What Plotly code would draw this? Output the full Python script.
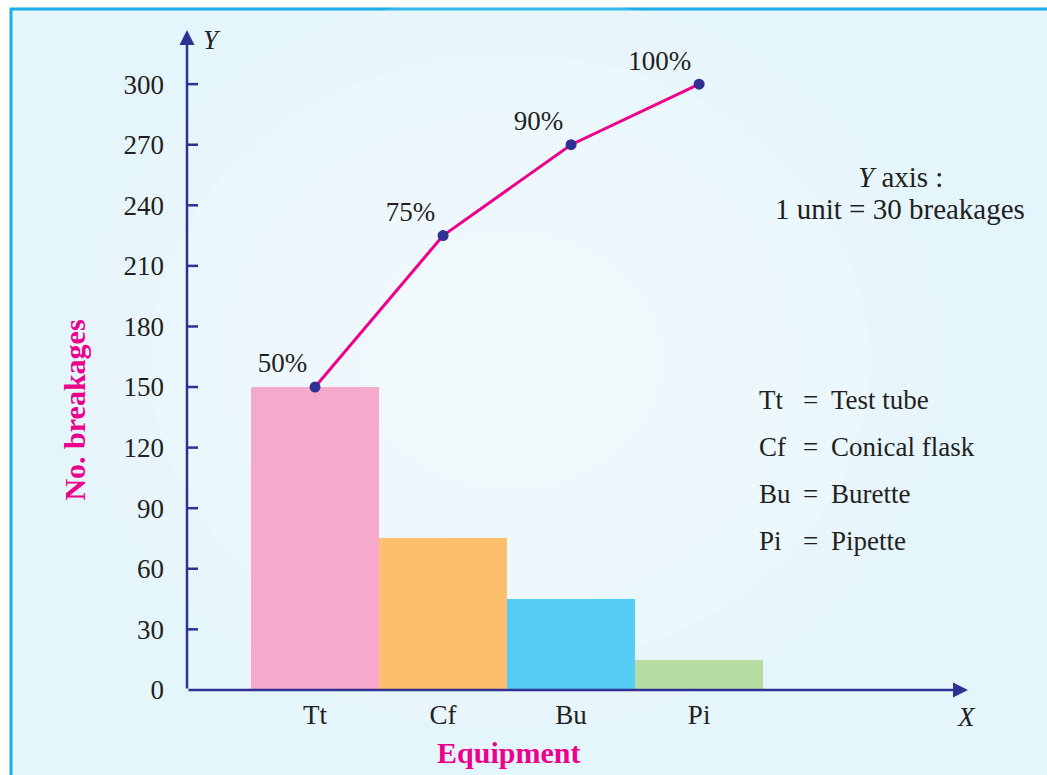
import plotly.graph_objects as go

# ---- data ----
categories = ["Tt", "Cf", "Bu", "Pi"]
full_names = ["Test tube", "Conical flask", "Burette", "Pipette"]
breakages = [150, 75, 45, 15]
cumulative = [150, 225, 270, 300]
cum_labels = ["50%", "75%", "90%", "100%"]
bar_colors = ["#f5a9cc", "#fdbf6c", "#55cdf4", "#b6dca2"]
y_ticks = [0, 30, 60, 90, 120, 150, 180, 210, 240, 270, 300]

W, H = 1047, 775
HE = 759  # effective drawing height observed in the viewer
FONT = "Liberation Serif"
TXT = "#231f20"
PINK = "#ec008c"
BLUE = "#2e3192"
FS = 27

def px(x):
    return x / W

def py(y):
    return 1 - y / HE

X_MIN, X_MAX = -1, 5.1
Y_MAX = 326.8

fig = go.Figure()

fig.add_trace(go.Bar(
    x=categories, y=breakages, marker=dict(color=bar_colors, line=dict(width=0)),
    width=1, hoverinfo="x+y", showlegend=False,
))

fig.add_trace(go.Scatter(
    x=categories, y=cumulative, mode="lines+markers+text",
    text=cum_labels, textposition="top left",
    textfont=dict(family=FONT, size=FS, color=TXT),
    line=dict(color=PINK, width=3),
    marker=dict(color=BLUE, size=11),
    showlegend=False,
))

shapes = []
# frame / background
shapes.append(dict(type="rect", xref="paper", yref="paper",
                   x0=px(11), x1=1.05, y0=-0.1, y1=py(9),
                   fillcolor="#e5f5fc", line=dict(color="#19aeea", width=3), layer="below"))
# soft radial highlight
for r in [430, 360, 290, 220, 150, 90]:
    cx, cy = 510, 360
    shapes.append(dict(type="circle", xref="paper", yref="paper",
                       x0=px(cx - r), x1=px(cx + r), y0=py(cy + r * 0.85), y1=py(cy - r * 0.85),
                       fillcolor="white", opacity=0.12, line=dict(width=0), layer="below"))
# y tick marks crossing the axis
for t in y_ticks[1:]:
    shapes.append(dict(type="line", xref="x", yref="y", xsizemode="pixel", xanchor=X_MIN,
                       x0=-11, x1=11, y0=t, y1=t, line=dict(color=BLUE, width=2.5)))

annotations = []

def note(x, y, text, color=TXT, xanchor="center", size=FS, angle=0):
    annotations.append(dict(xref="paper", yref="paper", x=px(x), y=py(y), text=text,
                            xanchor=xanchor, yanchor="middle", textangle=angle,
                            showarrow=False, font=dict(family=FONT, size=size, color=color)))

# axis arrows
annotations.append(dict(xref="x", yref="y", axref="x", ayref="y",
                        x=X_MIN, y=Y_MAX, ax=X_MIN, ay=0, text="", showarrow=True,
                        arrowhead=2, arrowsize=1.2, arrowwidth=2.5, arrowcolor=BLUE))
annotations.append(dict(xref="x", yref="y", axref="x", ayref="y",
                        x=X_MAX, y=0, ax=X_MIN, ay=0, text="", showarrow=True,
                        arrowhead=2, arrowsize=1.2, arrowwidth=2.5, arrowcolor=BLUE))
# axis letters
note(212, 40, "<i>Y</i>")
note(966, 716, "<i>X</i>")
# axis titles
note(75, 410, "<b>No. breakages</b>", color=PINK, angle=-90, size=30)
note(508, 752, "<b>Equipment</b>", color=PINK, size=30)
# scale note
note(900, 177, "<i>Y</i> axis :", size=29)
note(900, 209, "1 unit = 30 breakages", size=29)
# key
for i, (ab, nm) in enumerate(zip(categories, full_names)):
    yy = 399 + 47 * i
    note(757, yy, ab, xanchor="left")
    note(810, yy, "=")
    note(829, yy, nm, xanchor="left")

fig.update_layout(
    width=W, height=H, autosize=False,
    margin=dict(l=0, r=0, t=0, b=0),
    paper_bgcolor="white", plot_bgcolor="rgba(0,0,0,0)",
    bargap=0,
    shapes=shapes, annotations=annotations,
    xaxis=dict(domain=[px(187), px(968)], range=[X_MIN, X_MAX], type="category",
               showgrid=False, zeroline=False, showline=False, ticks="",
               tickfont=dict(family=FONT, size=FS, color=TXT), ticklabelstandoff=6),
    yaxis=dict(domain=[py(689), py(30)], range=[0, Y_MAX],
               tickvals=y_ticks, showgrid=False, zeroline=False, showline=False, ticks="",
               tickfont=dict(family=FONT, size=FS, color=TXT), ticklabelstandoff=22),
    font=dict(family=FONT, color=TXT),
)

post = "document.body.style.margin='0';document.body.style.overflow='hidden';"
fig.write_html("out.html", post_script=post, config={"displayModeBar": False})
